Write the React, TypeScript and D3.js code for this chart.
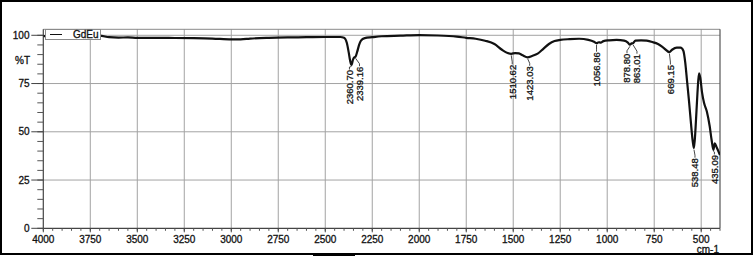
import React from "react";
import * as d3 from "d3";

// spectrum (wavenumber cm-1 / %T)
const wavenumbers = [
  4000, 3900, 3800, 3700, 3650, 3600, 3550, 3500, 3400, 3300,
  3200, 3100, 3000, 2950, 2900, 2800, 2700, 2600, 2500, 2420,
  2400, 2385, 2375, 2368, 2360.7, 2352, 2345, 2339.16, 2330, 2320,
  2310, 2290, 2250, 2200, 2100, 2000, 1900, 1800, 1750, 1700,
  1650, 1600, 1560, 1530, 1510.62, 1490, 1470, 1450, 1423.03, 1400,
  1370, 1340, 1310, 1280, 1250, 1200, 1150, 1100, 1070, 1056.86,
  1045, 1035, 1020, 990, 950, 910, 890, 878.8, 870, 863.01,
  850, 820, 790, 760, 730, 700, 669.15, 655, 630, 610,
  595, 585, 575, 565, 555, 545, 538.48, 530, 520, 512,
  505, 495, 485, 470, 455, 445, 435.09, 428, 418, 400
];
const transmittance = [
  99.6, 99.6, 99.7, 99.8, 99.0, 98.8, 98.9, 98.7, 98.7, 98.6,
  98.5, 98.3, 97.9, 97.9, 98.3, 98.7, 98.9, 99.0, 99.1, 99.1,
  98.7, 96, 91, 87, 84.6, 87.5, 88.6, 88.9, 91.5, 95,
  97.2, 98.5, 99.0, 99.5, 99.8, 100.1, 99.9, 99.3, 98.7, 98.2,
  97.2, 95.5, 92.5, 90.8, 90.4, 90.8, 90.6, 89.6, 88.6, 89.3,
  90.5, 93, 95.5, 97, 97.6, 98.0, 98.2, 97.6, 96.6, 95.9,
  96.4, 96.2, 97.0, 97.4, 97.6, 97.2, 96.2, 95.1, 95.8, 95.9,
  97.2, 97.4, 97.2, 96.5, 95.5, 93.5, 91.3, 92.5, 93.6, 93.6,
  92, 86, 76, 66, 55, 45, 41.5, 52, 70, 80.3,
  78, 70, 65, 60.5, 53, 46, 40.6, 44, 42, 38
];

// picked peaks
const peakWn = [2360.7, 2339.16, 1510.62, 1423.03, 1056.86, 878.8, 863.01, 669.15, 538.48, 435.09];
const peakT = [84.6, 88.9, 90.4, 88.6, 95.9, 95.1, 95.9, 91.3, 41.5, 40.6];

const xTicks = [4000, 3750, 3500, 3250, 3000, 2750, 2500, 2250, 2000, 1750, 1500, 1250, 1000, 750, 500];
const yTicks = [0, 25, 50, 75, 100];
const seriesName = "GdEu";

// label placement tweaks (px) so close peaks don't collide
const labelDx = [-2, 4, 1, 2, 0, -3, 4, 1, 1, 1];
const labelGap = [5, 10, 11, 9, 9, 9, 11, 13, 10, 5];

const W = 754,
  H = 257;
const left = 43.3,
  right = 720,
  top = 29.3,
  bottom = 228.3;
const font = "'Liberation Sans', Arial, sans-serif";
// scanned print looks a bit heavy, thicken the glyphs slightly
const ink = { fill: "#111", stroke: "#111", strokeWidth: 0.3 };

const App = () => {
  const x = d3.scaleLinear().domain([4000, 400]).range([left, right]);
  const y = d3.scaleLinear().domain([0, 103.1]).range([bottom, top]);

  const pts: [number, number][] = wavenumbers.map((w, i) => [w, transmittance[i]]);
  const line = d3
    .line<[number, number]>()
    .x(d => x(d[0]))
    .y(d => y(d[1]))
    .curve(d3.curveMonotoneX);

  const minorX = d3.range(4000, 399, -50);
  const minorY = d3.range(0, 101, 5);

  return (
    <svg
      width={W}
      height={H}
      style={{ position: "absolute", left: 0, top: 0, background: "#fff" }}
      fontFamily={font}
    >
      {/* outer frame */}
      <rect x={1} y={1} width={751} height={253} fill="none" stroke="#000" strokeWidth={2} />
      <line x1={313} x2={355} y1={254.5} y2={254.5} stroke="#000" strokeWidth={3} />

      {/* grid */}
      {xTicks.slice(1).map(t => (
        <line key={"gx" + t} x1={x(t)} x2={x(t)} y1={top} y2={bottom} stroke="#a3a3a3" strokeWidth={1} />
      ))}
      {yTicks.slice(1).map(t => (
        <line key={"gy" + t} x1={left} x2={right} y1={y(t)} y2={y(t)} stroke="#a3a3a3" strokeWidth={1} />
      ))}
      <line x1={left} x2={right} y1={top} y2={top} stroke="#8a8a8a" strokeWidth={1} />
      <line x1={right} x2={right} y1={top} y2={bottom} stroke="#555" strokeWidth={1.2} />

      {/* axes */}
      <line x1={left} x2={left} y1={top} y2={bottom} stroke="#444" strokeWidth={1.2} />
      <line x1={left} x2={right} y1={bottom} y2={bottom} stroke="#444" strokeWidth={1.2} />
      {minorY.map(t => (
        <line key={"my" + t} x1={left - 6} x2={left} y1={y(t)} y2={y(t)} stroke="#555" strokeWidth={1} />
      ))}
      {yTicks.map(t => (
        <g key={"ty" + t}>
          <line x1={left - 12} x2={left} y1={y(t)} y2={y(t)} stroke="#444" strokeWidth={1} />
          <text x={29.5} y={y(t)} dy="0.35em" textAnchor="end" fontSize={10} {...ink}>
            {t}
          </text>
        </g>
      ))}
      <text x={15} y={64} fontSize={10} {...ink}>
        %T
      </text>
      {minorX.map(t => (
        <line key={"mx" + t} x1={x(t)} x2={x(t)} y1={bottom} y2={bottom + 2.5} stroke="#555" strokeWidth={1} />
      ))}
      {xTicks.map(t => (
        <g key={"tx" + t}>
          <line x1={x(t)} x2={x(t)} y1={bottom} y2={bottom + 4} stroke="#444" strokeWidth={1} />
          <text x={x(t)} y={243} textAnchor="middle" fontSize={10} {...ink}>
            {t}
          </text>
        </g>
      ))}
      <text x={719} y={252.5} textAnchor="end" fontSize={10} {...ink}>
        cm-1
      </text>

      {/* spectrum */}
      <clipPath id="plot">
        <rect x={left} y={top} width={right - left} height={bottom - top} />
      </clipPath>
      <path d={line(pts) || ""} fill="none" stroke="#111" strokeWidth={2.2} clipPath="url(#plot)" />

      {/* peak labels */}
      {peakWn.map((w, i) => {
        const px = x(w),
          py = y(peakT[i]);
        const lx = px + labelDx[i],
          ly = py + labelGap[i];
        return (
          <g key={"pk" + w}>
            <path
              d={`M${px},${py + 1.5}L${lx},${ly - 3}L${lx},${ly - 0.5}`}
              fill="none"
              stroke="#333"
              strokeWidth={0.9}
            />
            <text
              transform={`translate(${lx},${ly}) rotate(-90)`}
              dy="0.35em"
              textAnchor="end"
              fontSize={9.5}
              {...ink}
            >
              {w.toFixed(2)}
            </text>
          </g>
        );
      })}

      {/* legend */}
      <rect x={45.5} y={29.5} width={55} height={10} fill="#fff" stroke="#8a8a8a" strokeWidth={1} />
      <line x1={50} x2={62} y1={34.5} y2={34.5} stroke="#111" strokeWidth={1} />
      <text x={73} y={38.3} fontSize={10} {...ink}>
        {seriesName}
      </text>
    </svg>
  );
};

export default App;
